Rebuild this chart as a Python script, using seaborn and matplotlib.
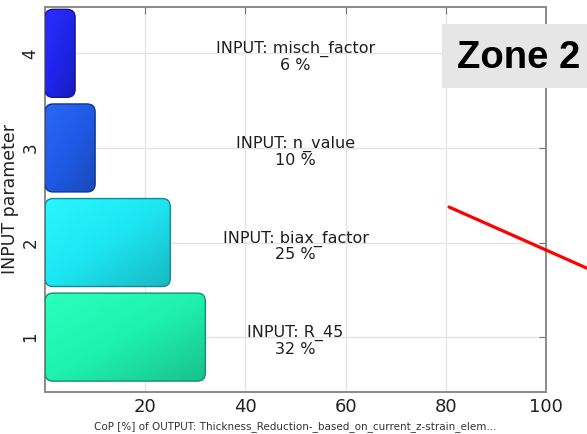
import numpy as np
import pandas as pd
import seaborn as sns
import matplotlib.pyplot as plt
from matplotlib.patches import FancyBboxPatch, Rectangle
from matplotlib.lines import Line2D
from matplotlib.colors import LinearSegmentedColormap, to_rgb

params = ['1', '2', '3', '4']
input_names = ['R_45', 'biax_factor', 'n_value', 'misch_factor']
cop_values = [32, 25, 10, 6]
x_ticks = [20, 40, 60, 80, 100]
x_label = 'CoP [%] of OUTPUT: Thickness_Reduction-_based_on_current_z-strain_elem...'
y_label = 'INPUT parameter'
zone_label = 'Zone 2'

bar_colors = {'1': '#1ff2ae', '2': '#1de6f2', '3': '#1f5ae6', '4': '#1f24ec'}

sns.set_style('white')
plt.rcParams['font.family'] = ['DejaVu Sans']

df = pd.DataFrame({'param': params, 'name': input_names, 'cop': cop_values})
order = params[::-1]

fig = plt.figure(figsize=(5.87, 4.34), dpi=100)
ax = fig.add_axes([0.0767, 0.0968, 0.8535, 0.8871])

sns.barplot(data=df, x='cop', y='param', hue='param', order=order, orient='h',
            palette=bar_colors, saturation=1, legend=False, width=0.93, ax=ax)

ax.set_xlim(0, 100)
ylim = (3.58, -0.49)
ax.set_ylim(*ylim)

# rounded, shaded bars in place of the flat ones
grad = np.add.outer(np.linspace(0, 1, 60), np.linspace(0, 1, 60)) / 2
for patch in list(ax.patches):
    x0, y0 = patch.get_x(), patch.get_y()
    w, h = patch.get_width(), patch.get_height()
    if w <= 0:
        continue
    base = np.array(to_rgb(patch.get_facecolor()))
    light = np.clip(base * 1.03 + 0.04, 0, 1)
    dark = base * 0.8
    cmap = LinearSegmentedColormap.from_list('g', [light, base, dark])
    patch.set_visible(False)
    box = FancyBboxPatch((x0, y0), w, h, boxstyle='round,pad=0,rounding_size=1.6',
                         mutation_aspect=0.053, facecolor='none',
                         edgecolor=dark * 0.75, linewidth=1.0, zorder=3)
    ax.add_patch(box)
    im = ax.imshow(grad, cmap=cmap, extent=(x0, x0 + w, y0 + h, y0),
                   aspect='auto', origin='upper', zorder=2, interpolation='bilinear')
    im.set_clip_path(box)

ax.set_xlim(0, 100)
ax.set_ylim(*ylim)
ax.set_aspect('auto')

for p, name, val in zip(params, input_names, cop_values):
    ax.text(50, order.index(p) + 0.04, f'INPUT: {name}\n{val} %', ha='center', va='center',
            fontsize=11.5, color='#1e1e1e', linespacing=1.05, zorder=4)

ax.set_xticks(x_ticks)
ax.set_xticklabels([str(t) for t in x_ticks], fontsize=13, color='#222222')
ax.set_yticks(range(len(order)))
ax.set_yticklabels(order, rotation=90, va='center', fontsize=12, color='#222222')
ax.tick_params(direction='in', length=5, color='#777777', top=True, right=True, pad=4)
ax.set_xlabel(x_label, fontsize=7.5, color='#333333', labelpad=4)
ax.set_ylabel(y_label, fontsize=12.5, color='#222222', labelpad=2)
ax.grid(True, color='#e4e4e4', linewidth=1.0, zorder=0)
ax.set_axisbelow(True)
for s in ax.spines.values():
    s.set_color('#8a8a8a')
    s.set_linewidth(1.4)

# overlay annotation from the slide
fig.patches.append(Rectangle((0.753, 0.797), 0.26, 0.147, transform=fig.transFigure,
                             facecolor='#e6e6e6', edgecolor='none', zorder=10))
fig.text(0.779, 0.866, zone_label, fontsize=27.5, fontweight='bold', family='Liberation Sans',
         va='center', ha='left', color='black', zorder=11)
fig.lines.append(Line2D([0.765, 1.0], [0.523, 0.382], transform=fig.transFigure,
                        color='#ff0000', linewidth=2.3, zorder=11))

fig.savefig('out.png', dpi=100)
